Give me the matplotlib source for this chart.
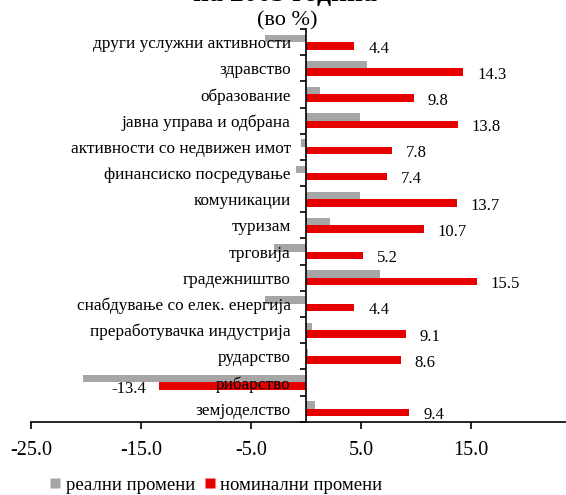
import matplotlib.pyplot as plt
from matplotlib.lines import Line2D

plt.rcParams['font.family'] = ['Liberation Serif', 'DejaVu Serif']

# categories, bottom to top
categories = ['земјоделство', 'рибарство', 'рударство',
              'преработувачка индустрија', 'снабдување со елек. енергија',
              'градежништво', 'трговија', 'туризам', 'комуникации',
              'финансиско посредување', 'активности со недвижен имот',
              'јавна управа и одбрана', 'образование', 'здравство',
              'други услужни активности']
real = [0.8, -20.3, 0.2, 0.5, -3.7, 6.7, -2.9, 2.2, 4.9, -0.9, -0.5, 4.9, 1.3, 5.5, -3.7]
nominal = [9.4, -13.4, 8.6, 9.1, 4.4, 15.5, 5.2, 10.7, 13.7, 7.4, 7.8, 13.8, 9.8, 14.3, 4.4]
xticks = [-25, -15, -5, 5, 15]

grey = '#A6A6A6'
red = '#E60000'

fig = plt.figure(figsize=(5.66, 4.95), dpi=100)
ax = fig.add_axes([31 / 566, 1 - 421.7 / 495, 550 / 566, (421.7 - 29) / 495])

h = 0.285
pos = list(range(len(categories)))
ax.barh([p + h / 2 for p in pos], real, height=h, color=grey, label='реални промени')
ax.barh([p - h / 2 for p in pos], nominal, height=h, color=red, label='номинални промени')

# value labels for nominal changes
for p, v in zip(pos, nominal):
    if v >= 0:
        ax.annotate(f'{v:.1f}', (v, p - h / 2), xytext=(10, -2), textcoords='offset points',
                    ha='left', va='center', fontsize=12)
    else:
        ax.annotate(f'{v:.1f}', (v, p - h / 2), xytext=(-9, -2), textcoords='offset points',
                    ha='right', va='center', fontsize=12)

ax.set_xlim(-25, 25)
ax.set_ylim(-0.5, len(categories) - 0.5)

for s in ['top', 'right']:
    ax.spines[s].set_visible(False)
ax.spines['left'].set_position(('data', 0))
ax.spines['left'].set_linewidth(1.2)
ax.spines['bottom'].set_linewidth(1.2)

ax.set_xticks(xticks)
ax.set_xticklabels([f'{t:.1f}' for t in xticks], fontsize=14.5)
ax.tick_params(axis='x', direction='out', length=5, width=1.2, pad=9)

ax.set_yticks([p - 0.5 for p in pos] + [len(categories) - 0.5])
ax.set_yticklabels([])
ax.set_yticks(pos, minor=True)
ax.set_yticklabels(categories, minor=True, fontsize=12.4)
ax.tick_params(axis='y', which='major', direction='out', length=4, width=1.2)
ax.tick_params(axis='y', which='minor', length=0, pad=11)

# title, top line cut off at the edge as in the original
fig.text(285 / 566, 1 - 1.5 / 495, 'на 2005 година', ha='center', va='baseline',
         fontsize=20, fontweight='bold')
fig.text(287 / 566, 1 - 21 / 495, '(во %)', ha='center', va='center', fontsize=16)

handles = [Line2D([], [], marker='s', color='none', markerfacecolor=grey, markeredgecolor='none', markersize=7.5),
           Line2D([], [], marker='s', color='none', markerfacecolor=red, markeredgecolor='none', markersize=7.5)]
fig.legend(handles, ['реални промени', 'номинални промени'], loc='center',
           bbox_to_anchor=(216 / 566, 1 - 485 / 495), ncol=2, frameon=False, fontsize=13.5,
           handlelength=0.6, handletextpad=0.25, columnspacing=0.5)

fig.savefig('out.png', dpi=100)
